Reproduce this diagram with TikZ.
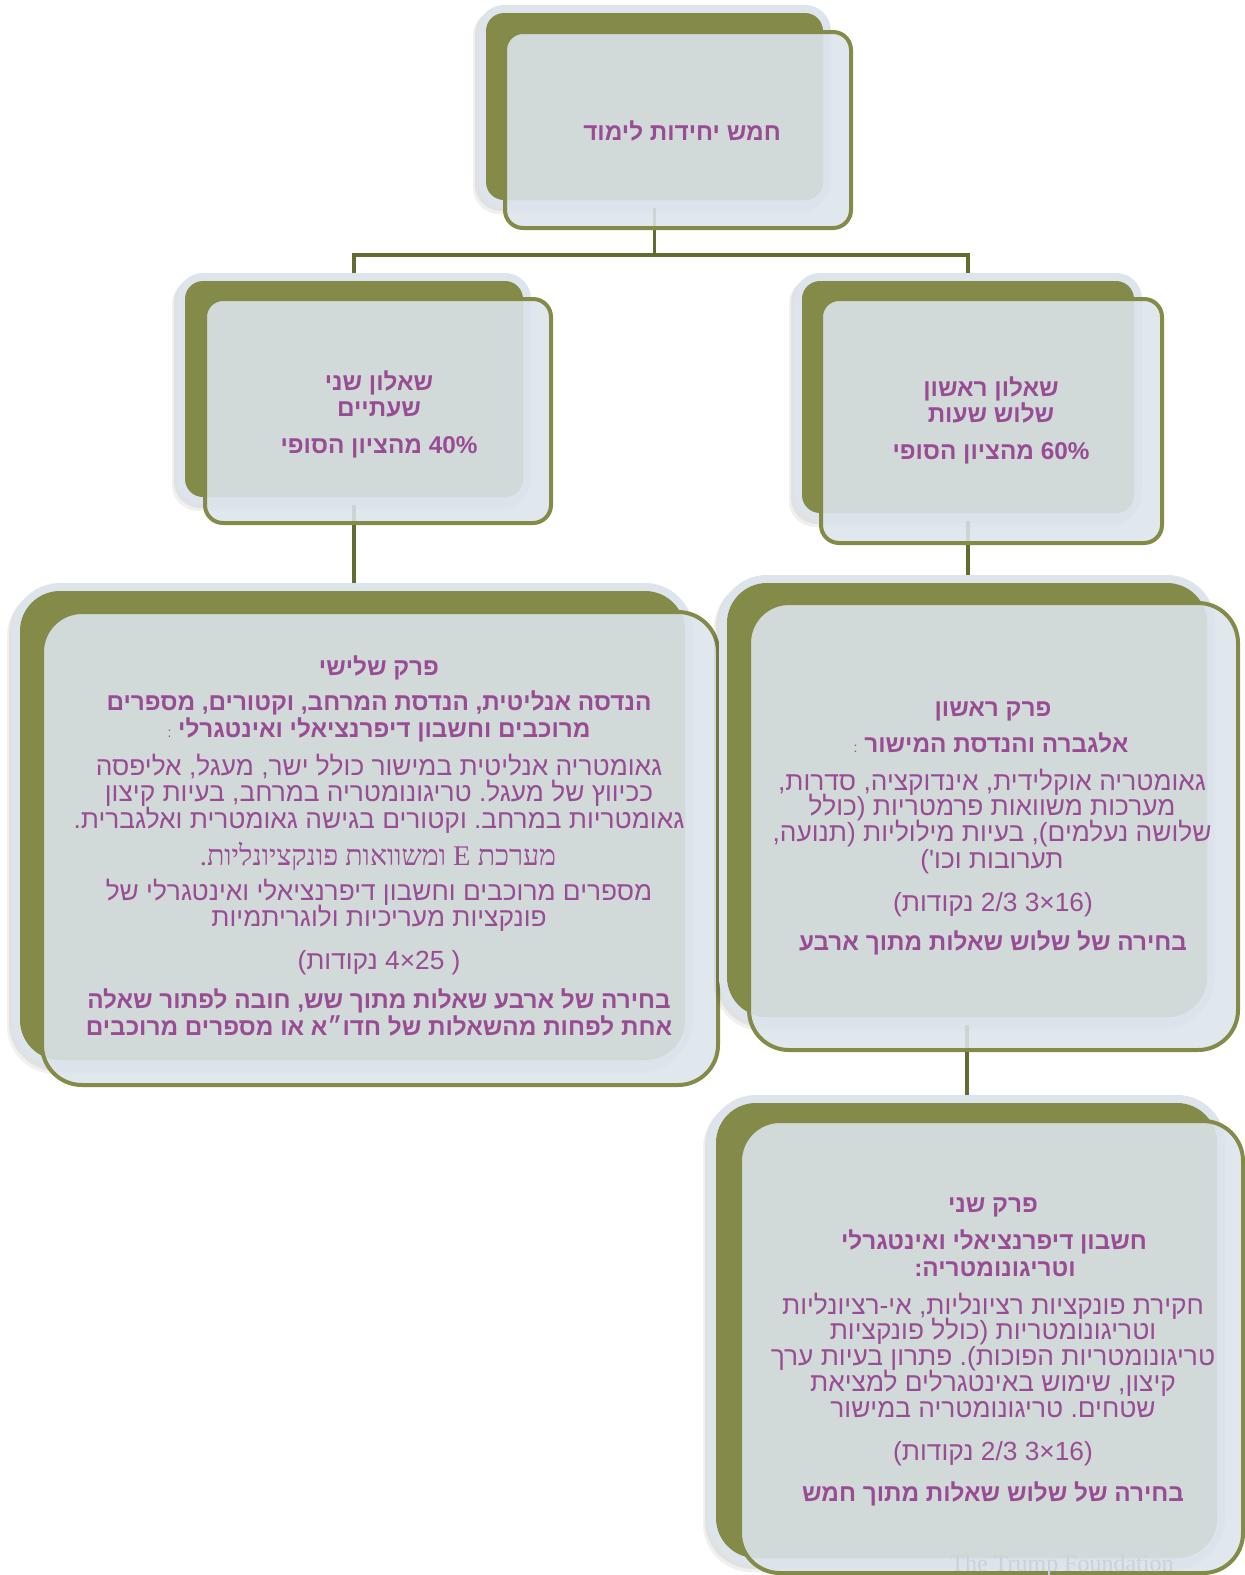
\documentclass[tikz,border=0pt]{standalone}
\usepackage{fontspec}
\TeXXeTstate=1
\newfontfamily\hb[Script=Hebrew]{Liberation Sans}
\newfontfamily\hs[Script=Hebrew]{Liberation Serif}
\newfontfamily\lat{Liberation Sans}
\newcommand\R[1]{\beginR#1\endR}
\newcommand\hx[1]{\hbox{#1}}
\newcommand\hl[1]{\hbox{\lat #1}}
\definecolor{olv}{RGB}{132,139,72}
\definecolor{connc}{RGB}{98,108,48}
\definecolor{halo}{RGB}{221,228,236}
\definecolor{frontc}{RGB}{220,228,235}
\definecolor{innerc}{RGB}{209,218,217}
\definecolor{txt}{RGB}{153,76,148}
\definecolor{wmc}{RGB}{204,209,217}
\pgfdeclarelayer{bg}
\pgfsetlayers{bg,main}
\tikzset{
  olivebox/.style={rectangle, fill=olv, draw=none, inner sep=0pt, outer sep=0pt},
  conn/.style={draw=connc, line width=3.5pt},
  hbold/.style={text=txt, font=\hb\bfseries\fontsize{24.3}{24.3}\selectfont, anchor=base, inner sep=0pt},
  hreg/.style={text=txt, font=\hb\fontsize{26.3}{26.3}\selectfont, anchor=base, inner sep=0pt},
  hser/.style={text=txt, font=\hs\fontsize{28.5}{28.5}\selectfont, anchor=base, inner sep=0pt},
}
\def\rr{18}
% #1 name, #2-#5 olive rect, #6-#9 front rect
\newcommand\mkbox[9]{%
  \fill[black, opacity=.06, rounded corners=\rr+8] ({#2-13},{#3-3}) rectangle ({#4+3},{#5+14});
  \fill[black, opacity=.06, rounded corners=\rr+8] ({#2-11},{#3-5}) rectangle ({#4+5},{#5+11});
  \fill[halo, rounded corners=\rr+8] ({#2-8},{#3-8}) rectangle ({#4+8},{#5+8});
  \node[olivebox, rounded corners=\rr, minimum width={(#4-#2)*1pt}, minimum height={(#5-#3)*1pt}] (#1) at ({(#2+#4)/2},{(#3+#5)/2}) {};
  \fill[frontc, fill opacity=.88, rounded corners=\rr] (#6,#7) rectangle (#8,#9);
  \begin{scope}
    \clip[rounded corners=\rr] ({#6+2},{#7+2}) rectangle ({#8-2},{#9-2});
    \fill[innerc, rounded corners=\rr] (#2,#3) rectangle (#4,#5);
  \end{scope}
  \draw[olv, line width=4pt, rounded corners=\rr] (#6,#7) rectangle (#8,#9);
}
\begin{document}
\begin{tikzpicture}[x=1pt,y=-1pt]
\begin{pgfonlayer}{bg}
\fill[white] (0,0) rectangle (1245,1575);
\end{pgfonlayer}
\useasboundingbox (0,0) rectangle (1245,1575);

% top box
\def\rr{18}
\mkbox{top}{486}{13}{823}{200}{505}{32}{851}{228}
\node[hbold] (t0) at (682,140) {\R{חמש יחידות לימוד}};

% second level left
\mkbox{q2}{185}{281}{523}{497}{205}{299}{551}{523}
\node[hbold] (q2a) at (379,390) {\R{שאלון שני}};
\node[hbold] (q2b) at (379,416) {\R{שעתיים}};
\node[hbold] (q2c) at (379,453) {\R{\hl{40\%} מהציון הסופי}};

% second level right
\mkbox{q1}{802}{281}{1134}{513}{821}{299}{1162}{543}
\node[hbold] (q1a) at (991,396) {\R{שאלון ראשון}};
\node[hbold] (q1b) at (991,422) {\R{שלוש שעות}};
\node[hbold] (q1c) at (991,459) {\R{\hl{60\%} מהציון הסופי}};

% big left
\def\rr{40}
\mkbox{p3}{20}{591}{685}{1060}{42}{612}{718}{1085}
\node[hbold] (p3a) at (379,675.5) {\R{פרק שלישי}};
\node[hbold] (p3b) at (379,710.5) {\R{הנדסה אנליטית\hx{,} הנדסת המרחב\hx{,} וקטורים\hx{,} מספרים}};
\node[hbold] (p3c) at (379,737.5) {\R{מרוכבים וחשבון דיפרנציאלי ואינטגרלי \hx{\mdseries\fontsize{14}{14}\selectfont :}}};
\node[hreg] (p3d) at (379,775) {\R{גאומטריה אנליטית במישור כולל ישר\hx{,} מעגל\hx{,} אליפסה}};
\node[hreg] (p3e) at (379,801) {\R{ככיווץ של מעגל\hx{.} טריגונומטריה במרחב\hx{,} בעיות קיצון}};
\node[hreg] (p3f) at (379,828) {\R{גאומטריות במרחב\hx{.} וקטורים בגישה גאומטרית ואלגברית\hx{.}}};
\node[hser] (p3g) at (378,865) {\R{מערכת \hx{E} ומשוואות פונקציונליות\hx{.}}};
\node[hreg] (p3h) at (379,900) {\R{מספרים מרוכבים וחשבון דיפרנציאלי ואינטגרלי של}};
\node[hreg] (p3i) at (379,926) {\R{פונקציות מעריכיות ולוגריתמיות}};
\node[hreg] (p3j) at (379,969) {\R{\hl{)} \hl{4×25} נקודות\hl{(}}};
\node[hbold] (p3k) at (379,1008.5) {\R{בחירה של ארבע שאלות מתוך שש\hx{,} חובה לפתור שאלה}};
\node[hbold] (p3l) at (379,1035.5) {\R{אחת לפחות מהשאלות של חדו״א או מספרים מרוכבים}};

% big right top
\mkbox{p1}{727}{583}{1207}{1017}{749}{603}{1238}{1050}
\node[hbold] (p1a) at (993,716) {\R{פרק ראשון}};
\node[hbold] (p1b) at (991,752) {\R{אלגברה והנדסת המישור \hx{\mdseries\fontsize{14}{14}\selectfont :}}};
\node[hreg] (p1c) at (992,790) {\R{גאומטריה אוקלידית\hx{,} אינדוקציה\hx{,} סדרות\hx{,}}};
\node[hreg] (p1d) at (992,815) {\R{מערכות משוואות פרמטריות \hl{)}כולל}};
\node[hreg] (p1e) at (992,841) {\R{שלושה נעלמים\hl{(}\hx{,} בעיות מילוליות \hl{)}תנועה\hx{,}}};
\node[hreg] (p1f) at (992,868) {\R{תערובות וכו\hx{'}\hl{(}}};
\node[hreg] (p1g) at (993,911) {\R{\hl{)}\hl{3×16 2/3} נקודות\hl{(}}};
\node[hbold] (p1h) at (993,950) {\R{בחירה של שלוש שאלות מתוך ארבע}};

% big right bottom
\mkbox{p2}{716}{1103}{1217}{1558}{740}{1121}{1243}{1573}
\node[hbold] (p2a) at (993,1212) {\R{פרק שני}};
\node[hbold] (p2b) at (994,1249) {\R{חשבון דיפרנציאלי ואינטגרלי}};
\node[hbold] (p2c) at (995,1276) {\R{וטריגונומטריה\hx{:}}};
\node[hreg] (p2d) at (993,1314) {\R{חקירת פונקציות רציונליות\hx{,} אי\hx{-}רציונליות}};
\node[hreg] (p2e) at (993,1339) {\R{וטריגונומטריות \hl{)}כולל פונקציות}};
\node[hreg] (p2f) at (993,1365) {\R{טריגונומטריות הפוכות\hl{(}\hx{.} פתרון בעיות ערך}};
\node[hreg] (p2g) at (993,1391) {\R{קיצון\hx{,} שימוש באינטגרלים למציאת}};
\node[hreg] (p2h) at (993,1417) {\R{שטחים\hx{.} טריגונומטריה במישור}};
\node[hreg] (p2i) at (993,1460) {\R{\hl{)}\hl{3×16 2/3} נקודות\hl{(}}};
\node[hbold] (p2j) at (993,1501) {\R{בחירה של שלוש שאלות מתוך חמש}};

\node[text=wmc, font=\hs\fontsize{24}{24}\selectfont, anchor=base, inner sep=0pt] (wm) at (1062,1571) {The Trump Foundation};

% connectors
\begin{pgfonlayer}{bg}
\draw[conn] (top.south) -- ++(0,55) -| (q2.north);
\draw[conn] (top.south) -- ++(0,55) -| (q1.north);
\draw[conn] (q2.south) -- (q2.south |- p3.north);
\draw[conn] (q1.south) -- (q1.south |- p1.north);
\draw[conn] (p1.south) -- (p1.south |- p2.north);
\end{pgfonlayer}
\end{tikzpicture}
\end{document}
